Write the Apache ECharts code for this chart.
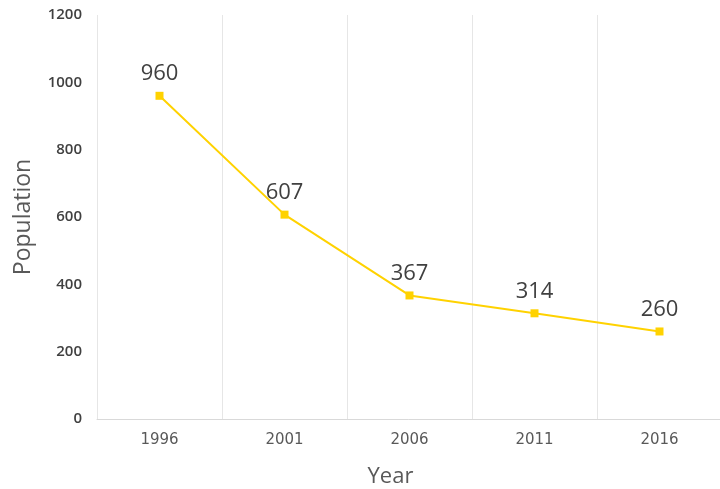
<!DOCTYPE html>
<html>
<head>
<meta charset="utf-8">
<script src="https://cdn.jsdelivr.net/npm/echarts@6/dist/echarts.min.js"></script>
<style>html,body{margin:0;padding:0;background:#fff}#c{width:720px;height:489px}</style>
</head>
<body>
<div id="c"></div>
<script>
var years = ['1996', '2001', '2006', '2011', '2016'];
var population = [960, 607, 367, 314, 260];
var yTicks = { min: 0, max: 1200, interval: 200 };

var chart = echarts.init(document.getElementById('c'), null, { renderer: 'canvas' });
chart.setOption({
  animation: false,
  backgroundColor: '#ffffff',
  grid: { left: 97, right: -2, top: 15, bottom: 70, containLabel: false, outerBoundsMode: 'none' },
  xAxis: {
    type: 'category',
    data: years,
    boundaryGap: true,
    name: 'Year',
    nameLocation: 'middle',
    nameGap: 47,
    nameTextStyle: { fontFamily: 'Open Sans', fontSize: 22, color: '#595959', padding: [0, 38, 0, 0] },
    axisLine: { show: true, lineStyle: { color: '#d9d9d9', width: 1 } },
    axisTick: { show: false },
    axisLabel: { fontFamily: 'DejaVu Sans', fontSize: 15, color: '#595959', margin: 14 },
    splitLine: { show: true, lineStyle: { color: '#e6e6e6', width: 1 } }
  },
  yAxis: {
    type: 'value',
    min: yTicks.min, max: yTicks.max, interval: yTicks.interval,
    name: 'Population',
    nameLocation: 'middle',
    nameGap: 62,
    nameRotate: 90,
    nameTextStyle: { fontFamily: 'Open Sans', fontSize: 23, color: '#595959' },
    axisLine: { show: false },
    axisTick: { show: false },
    axisLabel: {
      fontFamily: 'Open Sans', fontSize: 15, fontWeight: 600, color: '#404040', margin: 15,
      formatter: function (v) { return String(v); }
    },
    splitLine: { show: false }
  },
  series: [{
    type: 'line',
    data: population,
    symbol: 'rect',
    symbolSize: 8,
    lineStyle: { color: '#FFD200', width: 2 },
    itemStyle: { color: '#FFD200' },
    label: {
      show: true, position: 'top', distance: 7,
      fontFamily: 'Open Sans', fontSize: 22, color: '#404040'
    }
  }]
});
</script>
</body>
</html>
